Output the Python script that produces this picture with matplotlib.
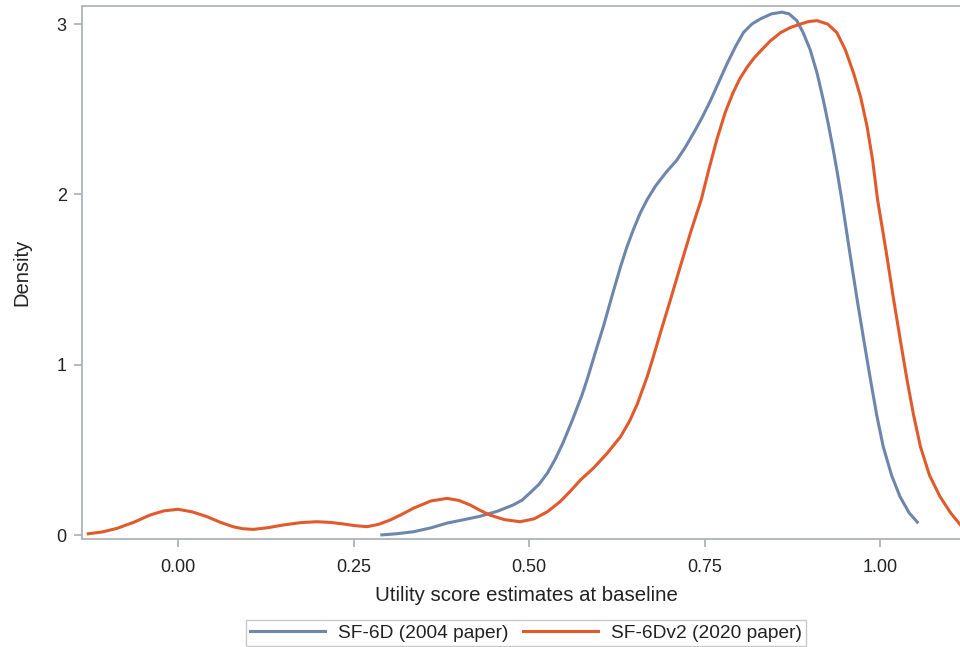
import matplotlib
matplotlib.use("Agg")
import matplotlib.pyplot as plt
from matplotlib.lines import Line2D

plt.rcParams['font.family'] = ['Liberation Sans', 'DejaVu Sans']

# Kernel density estimates of baseline utility scores
sf6d_x = [0.288, 0.310, 0.335, 0.360, 0.383, 0.407, 0.430, 0.455, 0.477, 0.490,
          0.501, 0.514, 0.526, 0.537, 0.548, 0.561, 0.575, 0.583, 0.594, 0.606,
          0.618, 0.630, 0.639, 0.648, 0.658, 0.668, 0.680, 0.695, 0.710, 0.722,
          0.734, 0.746, 0.758, 0.770, 0.782, 0.794, 0.805, 0.817, 0.829, 0.845,
          0.860, 0.870, 0.881, 0.890, 0.900, 0.910, 0.919, 0.926, 0.933, 0.939,
          0.945, 0.956, 0.967, 0.977, 0.986, 0.995, 1.004, 1.016, 1.028, 1.041,
          1.054]
sf6d_y = [0.000, 0.007, 0.019, 0.042, 0.070, 0.090, 0.110, 0.140, 0.176, 0.205,
          0.247, 0.298, 0.364, 0.445, 0.540, 0.670, 0.820, 0.920, 1.070, 1.230,
          1.405, 1.575, 1.690, 1.790, 1.890, 1.970, 2.050, 2.130, 2.200, 2.275,
          2.360, 2.450, 2.550, 2.660, 2.770, 2.870, 2.950, 3.000, 3.030, 3.060,
          3.070, 3.060, 3.020, 2.950, 2.850, 2.710, 2.550, 2.410, 2.260, 2.120,
          1.970, 1.670, 1.380, 1.130, 0.910, 0.700, 0.520, 0.350, 0.225, 0.130,
          0.069]

sf6dv2_x = [-0.130, -0.108, -0.087, -0.063, -0.040, -0.020, 0.000, 0.020, 0.041, 0.060,
            0.078, 0.092, 0.107, 0.128, 0.150, 0.175, 0.198, 0.217, 0.235, 0.252,
            0.269, 0.285, 0.302, 0.318, 0.335, 0.360, 0.383, 0.400, 0.416, 0.430,
            0.444, 0.465, 0.487, 0.507, 0.526, 0.544, 0.558, 0.573, 0.592, 0.611,
            0.630, 0.643, 0.654, 0.668, 0.677, 0.687, 0.701, 0.715, 0.730, 0.745,
            0.756, 0.767, 0.779, 0.790, 0.800, 0.810, 0.820, 0.829, 0.843, 0.858,
            0.872, 0.886, 0.898, 0.910, 0.925, 0.938, 0.950, 0.962, 0.972, 0.981,
            0.989, 0.996, 1.008, 1.019, 1.029, 1.038, 1.047, 1.057, 1.070, 1.085,
            1.100, 1.114, 1.130]
sf6dv2_y = [0.006, 0.018, 0.039, 0.075, 0.117, 0.142, 0.151, 0.136, 0.108, 0.075,
            0.049, 0.037, 0.033, 0.043, 0.059, 0.073, 0.078, 0.074, 0.065, 0.055,
            0.049, 0.062, 0.088, 0.120, 0.157, 0.200, 0.215, 0.203, 0.176, 0.145,
            0.117, 0.090, 0.078, 0.095, 0.137, 0.196, 0.255, 0.323, 0.395, 0.480,
            0.577, 0.670, 0.770, 0.930, 1.050, 1.190, 1.380, 1.575, 1.780, 1.970,
            2.150, 2.320, 2.480, 2.595, 2.680, 2.745, 2.800, 2.840, 2.900, 2.950,
            2.980, 3.000, 3.015, 3.020, 3.000, 2.950, 2.850, 2.710, 2.570, 2.400,
            2.200, 1.970, 1.670, 1.380, 1.130, 0.910, 0.710, 0.520, 0.350, 0.225,
            0.130, 0.059, 0.025]

series_labels = ['SF-6D (2004 paper)', 'SF-6Dv2 (2020 paper)']
series_colors = ['#6E86AB', '#E05A2C']
x_ticks = [0.0, 0.25, 0.5, 0.75, 1.0]
x_tick_labels = ['0.00', '0.25', '0.50', '0.75', '1.00']
y_ticks = [0, 1, 2, 3]

frame_col = '#ADB3BA'
text_col = '#222222'

fig = plt.figure(figsize=(9.6, 6.47), dpi=100)
ax = fig.add_axes([0.0854, 0.1669, 0.925, 0.8238])

ax.plot(sf6d_x, sf6d_y, color=series_colors[0], lw=2.2,
        solid_capstyle='butt', solid_joinstyle='round')
ax.plot(sf6dv2_x, sf6dv2_y, color=series_colors[1], lw=2.2,
        solid_capstyle='butt', solid_joinstyle='round')

ax.set_xlim(-0.1368, 1.1276)
ax.set_ylim(-0.0235, 3.106)
ax.set_xticks(x_ticks)
ax.set_xticklabels(x_tick_labels)
ax.set_yticks(y_ticks)

for s in ax.spines.values():
    s.set_color(frame_col)
    s.set_linewidth(1.3)

ax.tick_params(axis='both', direction='out', length=6, width=1.3, color=frame_col,
               labelcolor=text_col, labelsize=13)
ax.tick_params(axis='x', pad=8.5)
ax.tick_params(axis='y', pad=5)

ax.set_xlabel('Utility score estimates at baseline', fontsize=14.7, color=text_col, labelpad=7)
ax.set_ylabel('Density', fontsize=14.5, color=text_col, labelpad=18)

handles = [Line2D([], [], color=c, lw=2.2) for c in series_colors]
leg = fig.legend(handles, series_labels, ncol=2, loc='lower center',
                 bbox_to_anchor=(0.548, 0.0), frameon=True, fancybox=False,
                 edgecolor='#C8C8C8', framealpha=1, fontsize=13.8,
                 handlelength=3.9, handletextpad=0.65, columnspacing=0.8,
                 borderpad=0.22, borderaxespad=0.05)
leg.get_frame().set_linewidth(1.0)
for t in leg.get_texts():
    t.set_color(text_col)

fig.savefig('out.png', dpi=100)
